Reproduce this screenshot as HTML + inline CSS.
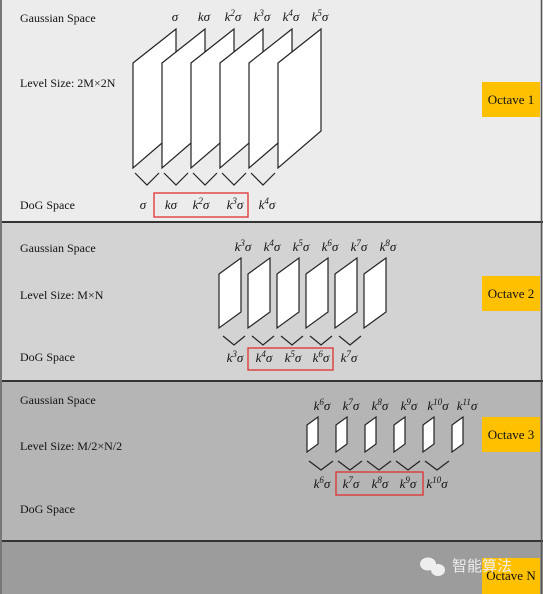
<!DOCTYPE html>
<html><head><meta charset="utf-8"><style>
html,body{margin:0;padding:0;background:#fff}
svg{display:block}
text{font-family:"Liberation Serif","Noto Serif CJK SC",serif;fill:#111}
.lbl{font-size:12px}
.m{font-size:13px;font-style:italic}
.oct{font-size:13px}
</style></head><body>
<svg id="s" width="543" height="594" viewBox="0 0 543 594" xmlns="http://www.w3.org/2000/svg">
<rect x="0" y="0" width="543" height="223" fill="#ececec"/>
<rect x="0" y="223" width="543" height="158" fill="#d3d3d3"/>
<rect x="0" y="381" width="543" height="160" fill="#b5b5b5"/>
<rect x="0" y="541" width="543" height="53" fill="#9c9c9c"/>
<g stroke="#333" stroke-width="2">
<line x1="0" y1="222" x2="543" y2="222"/><line x1="0" y1="381" x2="543" y2="381"/><line x1="0" y1="541" x2="543" y2="541"/>
</g>
<line x1="1" y1="0" x2="1" y2="594" stroke="#777" stroke-width="2"/>
<line x1="541.5" y1="0" x2="541.5" y2="594" stroke="#555" stroke-width="1.5"/>

<text class="lbl" x="20" y="22">Gaussian Space</text>
<text class="lbl" x="20" y="87">Level Size: 2M×2N</text>
<text class="lbl" x="20" y="209">DoG Space</text>
<text class="lbl" x="20" y="252">Gaussian Space</text>
<text class="lbl" x="20" y="299">Level Size: M×N</text>
<text class="lbl" x="20" y="361">DoG Space</text>
<text class="lbl" x="20" y="404">Gaussian Space</text>
<text class="lbl" x="20" y="450">Level Size: M/2×N/2</text>
<text class="lbl" x="20" y="513">DoG Space</text>

<rect x="482" y="82" width="58" height="35" fill="#ffc000"/>
<text class="oct" x="511" y="104" text-anchor="middle">Octave 1</text>
<rect x="482" y="276" width="58" height="35" fill="#ffc000"/>
<text class="oct" x="511" y="298" text-anchor="middle">Octave 2</text>
<rect x="482" y="417" width="58" height="35" fill="#ffc000"/>
<text class="oct" x="511" y="439" text-anchor="middle">Octave 3</text>
<rect x="482" y="558" width="58" height="36" fill="#ffc000"/>
<text class="oct" x="511" y="580" text-anchor="middle">Octave N</text>
<text x="452" y="571" font-size="15" style="fill:#eee;font-family:'Noto Sans CJK SC',sans-serif">智能算法</text>
<g fill="#eee"><ellipse cx="428" cy="564" rx="8" ry="6.5"/><ellipse cx="438" cy="570" rx="7" ry="6"/></g>
<g id="g"></g>
</svg>
<script>
const gaussExp1=[0,1,2,3,4,5], dogExp1=[0,1,2,3,4];
const gaussExp2=[3,4,5,6,7,8], dogExp2=[3,4,5,6,7];
const gaussExp3=[6,7,8,9,10,11], dogExp3=[6,7,8,9,10];
const NS='http://www.w3.org/2000/svg';
const g=document.getElementById('g');
function mk(t,a){const e=document.createElementNS(NS,t);for(const k in a)e.setAttribute(k,a[k]);g.appendChild(e);return e;}
function sig(e,x,y){
  const t=mk('text',{x:x,y:y,'text-anchor':'middle',class:'m'});
  if(e===0){t.textContent='σ';}
  else{t.appendChild(document.createTextNode('k'));
    if(e>1){const s=document.createElementNS(NS,'tspan');s.setAttribute('dy','-5');s.setAttribute('font-size','9');s.textContent=e;t.appendChild(s);
      const s2=document.createElementNS(NS,'tspan');s2.setAttribute('dy','5');s2.textContent='σ';t.appendChild(s2);}
    else t.appendChild(document.createTextNode('σ'));}
  return t;
}
function octave(n,gauss,dog,o){
  gauss.forEach((e,i)=>{
    const x=o.x0+i*29;
    const p=mk('polygon',{points:`${x},${o.tl} ${x+o.w},${o.tr} ${x+o.w},${o.br} ${x},${o.bl}`,fill:'#fff',stroke:'#222','stroke-width':1.2});
    
    
    const t=sig(e,x+o.w+o.lo,o.ly);
    
    
  });
  dog.forEach((e,i)=>{
    const cx=o.cx0+i*29;
    const c=mk('polyline',{points:`${cx-o.cw},${o.c1} ${cx},${o.c2} ${cx+o.cw},${o.c1}`,fill:'none',stroke:'#222','stroke-width':1.2});
    
    
    const t=sig(e,o.dx[i],o.dy);
    
    
  });
  const b=mk('rect',{x:o.bx,y:o.by,width:o.bw,height:o.bh,fill:'none',stroke:'#e03030','stroke-width':1.3});
  
  
}
octave(1,gaussExp1,dogExp1,{x0:133,w:43,tl:63,tr:29,bl:168,br:131,lo:-1,ly:21,cx0:147,cw:12,c1:173,c2:185,dx:[143,171,201,235,267],dy:209,bx:154,by:193,bw:94,bh:24});
octave(2,gaussExp2,dogExp2,{x0:219,w:22,tl:274,tr:258,bl:328,br:312,lo:2,ly:251,cx0:234,cw:11,c1:336,c2:345,dx:[235,264,293,321,349],dy:362,bx:248,by:348,bw:85,bh:22});
octave(3,gaussExp3,dogExp3,{x0:307,w:11,tl:425,tr:417,bl:452,br:444,lo:4,ly:410,cx0:321,cw:12,c1:461,c2:470,dx:[322,351,380,408,437],dy:488,bx:336,by:472,bw:87,bh:23});
</script>
</body></html>
